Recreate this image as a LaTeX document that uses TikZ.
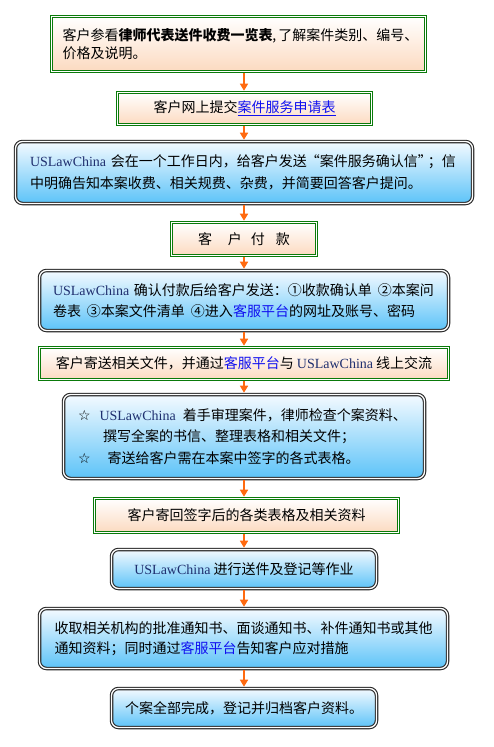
\documentclass[tikz,border=0pt]{standalone}
\usepackage{fontspec}
\setmainfont{Noto Sans CJK SC}
\newfontfamily\latinserif{Liberation Serif}
\newfontfamily\symfont{DejaVu Sans}
\usetikzlibrary{arrows.meta}
\definecolor{gborder}{HTML}{0A7A0A}
\definecolor{peach}{HTML}{FCDAC0}
\definecolor{skytop}{HTML}{F4FAFF}
\definecolor{skybot}{HTML}{5CC3F8}
\definecolor{navytxt}{HTML}{1F2F6F}
\definecolor{linkblue}{HTML}{1010F0}
\definecolor{arrorange}{HTML}{FF6A10}
\newcommand{\usl}{{\latinserif\color{navytxt}USLawChina}}
\newcommand{\blu}[1]{{\color{linkblue}#1}}
\newcommand{\stsym}{{\symfont ☆}}
\tikzset{
  gbox/.style={draw=gborder, double=white, double distance=1pt, line width=1.3pt,
    top color=white, bottom color=peach, inner sep=0pt, outer sep=1.8pt, align=center},
  bbox/.style={draw=black!85, double=white, double distance=1.3pt, line width=1.1pt,
    rounded corners=7pt, top color=skytop, bottom color=skybot, inner sep=0pt,
    outer sep=1.8pt, align=center},
  arr/.style={draw=arrorange, line width=1.6pt, -{Triangle[length=7pt,width=8pt]}},
  txt/.style={font=\fontsize{14pt}{21pt}\selectfont}
}
\begin{document}
\begin{tikzpicture}[x=1pt,y=-1pt]
\useasboundingbox[fill=white] (0,0) rectangle (493,747);
\coordinate (ax) at (244,0);

\node[gbox, minimum width=374pt, minimum height=55pt, text width=352pt, align=left,
  font=\fontsize{14pt}{18pt}\selectfont] (b1) at (238.5,44)
  {\mbox{客户参看\textbf{律师代表送件收费一览表},\hspace{2pt}了解案件类别、编号、}\\\mbox{价格及说明。}};

\node[gbox, minimum width=254pt, minimum height=32pt, txt] (b2) at (244.5,108.5)
  {客户网上提交\blu{\underline{案件服务申请表}}};

\node[bbox, minimum width=457pt, minimum height=62pt, text width=428pt, align=left,
  font=\fontsize{14pt}{22pt}\selectfont] (b3) at (244,172.5)
  {\mbox{\usl\ 会在一个工作日内，给客户发送\hspace{-1pt}“案件服务确认信”\hspace{-4pt}；信}\\\mbox{中明确告知本案收费、相关规费、杂费，并简要回答客户提问。}};

\node[gbox, minimum width=145pt, minimum height=33pt, txt] (b4) at (244,239)
  {客\hspace{16pt}户\hspace{9pt}付\hspace{11pt}款};

\node[bbox, minimum width=409pt, minimum height=60pt, text width=382pt, align=left,
  font=\fontsize{14pt}{21pt}\selectfont] (b5) at (244,300.5)
  {\mbox{\usl\ 确认付款后给客户发送：①收款确认单\hspace{6pt}②本案问}\\\mbox{卷表\hspace{6pt}③本案文件清单\hspace{6pt}④进入\blu{客服平台}的网址及账号、密码}};

\node[gbox, minimum width=409pt, minimum height=32pt, txt] (b6) at (244,363.5)
  {客户寄送相关文件，并通过\blu{客服平台}与 \usl\ 线上交流};

\node[bbox, minimum width=361pt, minimum height=84pt, text width=332pt, align=left,
  font=\fontsize{14pt}{21.5pt}\selectfont] (b7) at (244,436.5)
  {\mbox{\stsym\hspace{9pt}\usl\hspace{7pt}着手审理案件，律师检查个案资料、}\\\mbox{\hspace{25pt}撰写全案的书信、整理表格和相关文件；}\\\mbox{\stsym\hspace{17pt}寄送给客户需在本案中签字的各式表格。}};

\node[gbox, minimum width=304pt, minimum height=34pt, txt] (b8) at (246.5,515.5)
  {客户寄回签字后的各类表格及相关资料};

\node[bbox, minimum width=265pt, minimum height=39pt, txt] (b9) at (244,569)
  {\usl\ 进行送件及登记等作业};

\node[bbox, minimum width=408pt, minimum height=60pt, text width=378pt, align=left,
  font=\fontsize{14pt}{20pt}\selectfont] (b10) at (243.5,638.5)
  {\mbox{收取相关机构的批准通知书、面谈通知书、补件通知书或其他}\\\mbox{通知资料；同时通过\blu{客服平台}告知客户应对措施}};

\node[bbox, minimum width=265pt, minimum height=39pt, txt] (b11) at (244,708)
  {个案全部完成，登记并归档客户资料。};

\foreach \a/\b in {b1/b2,b2/b3,b3/b4,b4/b5,b5/b6,b6/b7,b7/b8,b8/b9,b9/b10,b10/b11}
  \draw[arr] (\a.south -| ax) -- (\b.north -| ax);
\end{tikzpicture}
\end{document}
